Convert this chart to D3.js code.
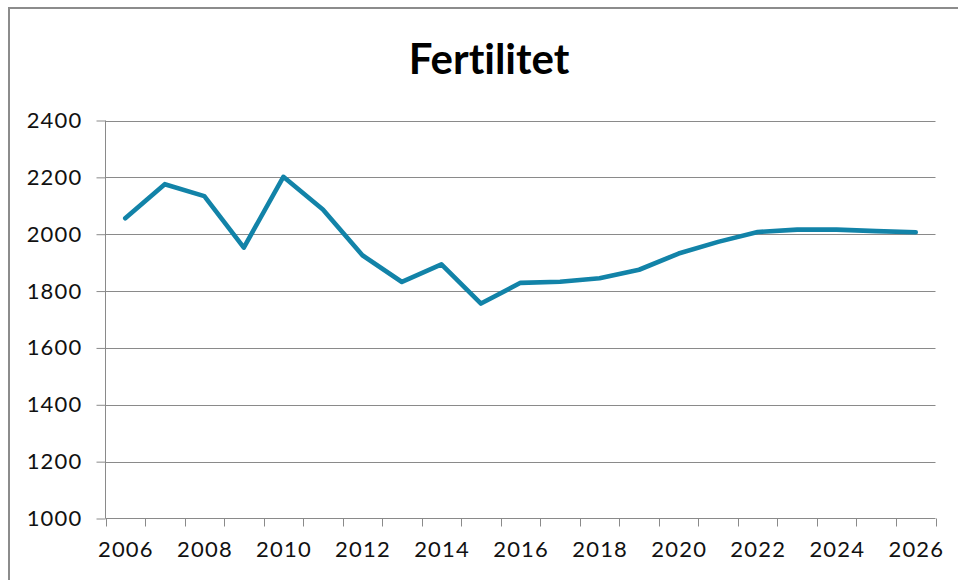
<!DOCTYPE html>
<html><head><meta charset="utf-8">
<script src="https://cdn.jsdelivr.net/npm/d3@7"></script>
<style>body{margin:0;background:#fff}svg{display:block}text{font-variant-ligatures:none;font-feature-settings:"liga" 0}</style>
</head><body>
<svg id="c" width="958" height="580"></svg>
<script>
const title = "Fertilitet";
const years = ["2006","2007","2008","2009","2010","2011","2012","2013","2014","2015","2016","2017","2018","2019","2020","2021","2022","2023","2024","2025","2026"];
const values = [2056,2176,2134,1953,2202,2087,1926,1832,1894,1756,1829,1833,1845,1875,1932,1973,2008,2016,2016,2011,2007];
const yTicks = [1000,1200,1400,1600,1800,2000,2200,2400];
const xLabels = ["2006","2008","2010","2012","2014","2016","2018","2020","2022","2024","2026"];

(function(){
const svg = d3.select("#c");
const font = "Lato, 'Open Sans', sans-serif";
const pL = 105.5, pR = 935.5, pT = 120.5, pB = 518.5;

const x = d3.scaleBand().domain(years).range([pL, pR]).padding(0);
const y = d3.scaleLinear().domain([1000, 2400]).range([pB, pT]);

// chart frame (partially visible)
svg.append("path").attr("d", "M9,580 V8 H958").attr("fill","none").attr("stroke","#8c8c8c").attr("stroke-width",2);

// gridlines
svg.append("g").selectAll("line").data(yTicks.slice(1)).join("line")
  .attr("x1", pL).attr("x2", pR)
  .attr("y1", d => Math.round(y(d)) + 0.5).attr("y2", d => Math.round(y(d)) + 0.5)
  .attr("stroke", "#8a8a8a").attr("stroke-width", 1);

// y axis
const ya = svg.append("g").attr("transform", `translate(${pL},0)`)
  .call(d3.axisLeft(y).tickValues(yTicks).tickSize(9).tickPadding(14).tickFormat(d3.format("d")));
ya.select(".domain").attr("stroke","#8a8a8a").attr("d", `M0,${pT}V${pB}`);
ya.selectAll(".tick line").attr("stroke","#8a8a8a");
ya.selectAll("text").attr("font-family", font).attr("font-size", 22).attr("letter-spacing", 1.2).attr("fill","#111");

// x axis line
svg.append("line").attr("x1", pL).attr("x2", pR).attr("y1", pB).attr("y2", pB).attr("stroke","#8a8a8a");
// x tick marks at category boundaries
const bounds = years.map(d => x(d)).concat([x(years[years.length-1]) + x.bandwidth()]);
svg.append("g").selectAll("line").data(bounds).join("line")
  .attr("x1", d => Math.round(d) + 0.5).attr("x2", d => Math.round(d) + 0.5)
  .attr("y1", pB).attr("y2", pB + 8).attr("stroke", "#8a8a8a");
// x labels
const xa = svg.append("g").attr("transform", `translate(0,${pB})`)
  .call(d3.axisBottom(x).tickValues(xLabels).tickSize(0).tickPadding(23));
xa.select(".domain").remove();
xa.selectAll("text").attr("font-family", font).attr("font-size", 22).attr("letter-spacing", 1.2).attr("dx", 0.6).attr("fill","#111");

// line
const line = d3.line().x((d,i) => x(years[i]) + x.bandwidth()/2).y(d => y(d));
svg.append("path").datum(values).attr("d", line)
  .attr("fill","none").attr("stroke","#1283a8").attr("stroke-width",4.6)
  .attr("stroke-linejoin","round").attr("stroke-linecap","round");

// title
svg.append("text").attr("x", 489).attr("y", 73.5).attr("text-anchor","middle")
  .attr("font-family", font).attr("font-weight","bold").attr("font-size", 42).attr("fill","#000").text(title);
})();
</script>
</body></html>
